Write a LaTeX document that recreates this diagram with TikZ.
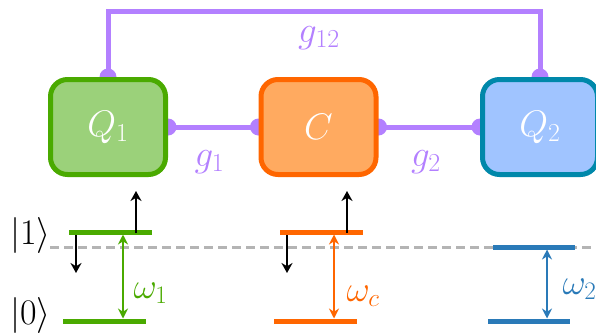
\RequirePackage{fix-cm}
\documentclass[tikz,border=0pt]{standalone}
\usetikzlibrary{arrows.meta}
\definecolor{cpurple}{HTML}{B380FF}
\definecolor{qonefill}{HTML}{9BD17A}
\definecolor{qoneline}{HTML}{4AAA00}
\definecolor{cfill}{HTML}{FFAA60}
\definecolor{cline}{HTML}{FF6600}
\definecolor{qtwofill}{HTML}{A0C4FF}
\definecolor{qtwoline}{HTML}{0088AA}
\definecolor{lvlblue}{HTML}{2A7AB8}
\definecolor{dashgray}{HTML}{B4B4B4}
\pgfdeclarelayer{bg}
\pgfsetlayers{bg,main}
\tikzset{
  qbox/.style={rectangle, rounded corners=17pt, line width=5pt, minimum width=115pt, minimum height=95pt, text=white, font=\fontsize{37}{40}\selectfont},
  coupling/.style={cpurple, line width=5pt},
  cdot/.style={fill=cpurple},
  glabel/.style={text=cpurple, font=\fontsize{37}{40}\selectfont},
  level/.style={line width=5pt},
  shift arrow/.style={line width=2.5pt, -{Stealth[length=10pt,width=11pt]}},
  freq arrow/.style={line width=2pt, {Stealth[length=10pt,width=10pt]}-{Stealth[length=10pt,width=10pt]}},
  wlabel/.style={anchor=west, font=\fontsize{36}{40}\selectfont},
  ket/.style={font=\fontsize{36}{40}\selectfont}
}
\begin{document}
\begin{tikzpicture}[x=1pt,y=-1pt]
\useasboundingbox (0,0) rectangle (596,335);
% boxes
\node[qbox, draw=qoneline, fill=qonefill] (Q1) at (108,127) {$Q_1$};
\node[qbox, draw=cline, fill=cfill] (C) at (318.5,127) {$C$};
\node[qbox, draw=qtwoline, fill=qtwofill] (Q2) at (540,127) {$Q_2$};
\coordinate (TL) at (108,11);
\coordinate (TR) at (540,11);
\begin{pgfonlayer}{bg}
  \draw[coupling] (Q1.east) -- (C.west);
  \draw[coupling] (C.east) -- (Q2.west);
  \draw[coupling] (Q1.north) -- (TL) -- (TR) -- (Q2.north);
  \foreach \p in {Q1.east, C.west, C.east, Q2.west, Q1.north, Q2.north}
    \fill[cdot] (\p) circle (8.5pt);
\end{pgfonlayer}
\node[glabel] (g12) at (319,38) {$g_{12}$};
\node[glabel] (g1) at (209.5,162) {$g_1$};
\node[glabel] (g2) at (426,162) {$g_2$};
% dashed reference
\coordinate (dl) at (50,247);
\coordinate (dr) at (596,247);
\draw[dashgray, line width=3pt, dash pattern=on 8.5pt off 5.5pt] (dl) -- (dr);
% level coordinates
\coordinate (a1l) at (69,232);  \coordinate (a1r) at (152,232);
\coordinate (a0l) at (63,321);  \coordinate (a0r) at (146,321);
\coordinate (c1l) at (280,232); \coordinate (c1r) at (363,232);
\coordinate (c0l) at (274,321); \coordinate (c0r) at (357,321);
\coordinate (b1l) at (493,247); \coordinate (b1r) at (575,247);
\coordinate (b0l) at (488,321); \coordinate (b0r) at (570,321);
\draw[level, qoneline] (a1l) -- (a1r);
\draw[level, qoneline] (a0l) -- (a0r);
\draw[level, cline] (c1l) -- (c1r);
\draw[level, cline] (c0l) -- (c0r);
\draw[level, lvlblue] (b1l) -- (b1r);
\draw[level, lvlblue] (b0l) -- (b0r);
% shift arrows
\coordinate (au0) at (136,233); \coordinate (au1) at (136,191);
\coordinate (ad0) at (76,235);  \coordinate (ad1) at (76,273);
\coordinate (cu0) at (347,233); \coordinate (cu1) at (347,191);
\coordinate (cd0) at (287,235); \coordinate (cd1) at (287,273);
\draw[shift arrow] (au0) -- (au1);
\draw[shift arrow] (ad0) -- (ad1);
\draw[shift arrow] (cu0) -- (cu1);
\draw[shift arrow] (cd0) -- (cd1);
% frequency arrows
\coordinate (af1) at (123,234.5); \coordinate (af0) at (123,318.5);
\coordinate (cf1) at (334,234.5); \coordinate (cf0) at (334,318.5);
\coordinate (bf1) at (547,249.5); \coordinate (bf0) at (547,318.5);
\draw[freq arrow, qoneline] (af1) -- (af0);
\draw[freq arrow, cline] (cf1) -- (cf0);
\draw[freq arrow, lvlblue] (bf1) -- (bf0);
\node[wlabel, text=qoneline] (w1) at (130,293) {$\omega_1$};
\node[wlabel, text=cline] (wc) at (343,296) {$\omega_c$};
\node[wlabel, text=lvlblue] (w2) at (559,289) {$\omega_2$};
% kets
\node[ket] (k1) at (30.5,235) {$|1\rangle$};
\node[ket] (k0) at (30.5,315) {$|0\rangle$};
\end{tikzpicture}
\end{document}
